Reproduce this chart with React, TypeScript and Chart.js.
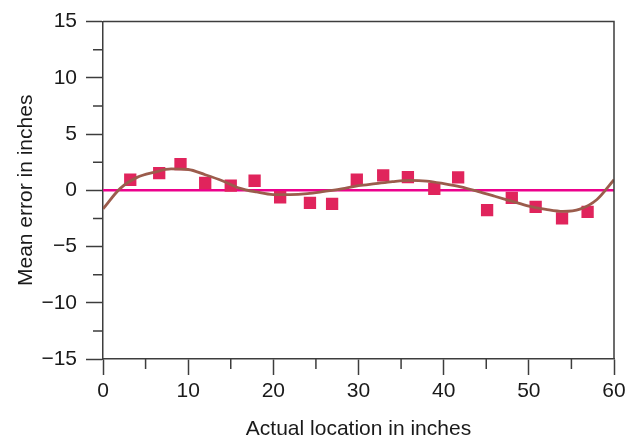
import React, { useEffect, useRef } from "react";
import { Chart, registerables } from "chart.js";

Chart.register(...registerables);

const pointX = [3.2, 6.6, 9.1, 12.0, 15.0, 17.8, 20.8, 24.3, 26.9, 29.8, 32.9, 35.8, 38.9, 41.7, 45.1, 48.0, 50.8, 53.9, 56.9];
const pointY = [0.94, 1.53, 2.32, 0.65, 0.41, 0.85, -0.62, -1.12, -1.2, 0.94, 1.32, 1.17, 0.12, 1.15, -1.77, -0.68, -1.47, -2.5, -1.91];

const curveX = [0, 2, 4, 6, 8, 10, 12, 14, 16, 18, 20, 22, 24, 26, 28, 30, 32, 34, 36, 38, 40, 42, 44, 46, 48, 50, 52, 54, 56, 58, 60];
const curveY = [-1.65, 0.15, 1.15, 1.6, 1.9, 1.85, 1.38, 0.85, 0.2, -0.15, -0.38, -0.38, -0.3, -0.1, 0.12, 0.41, 0.59, 0.77, 0.88, 0.82, 0.59, 0.3, -0.1, -0.53, -0.97, -1.41, -1.7, -1.88, -1.68, -0.82, 0.94];

const zeroLineX = [0, 60];
const zeroLineY = [0, 0];

const xMinorTicks = [5, 15, 25, 35, 45, 55];
const yMinorTicks = [-12.5, -7.5, -2.5, 2.5, 7.5, 12.5];

const AXIS_COLOR = "#3d3d3d";
const FONT = "'Liberation Sans', Arial, Helvetica, sans-serif";

const framePlugin = {
  id: "frame",
  afterDraw(chart: any) {
    const { ctx, chartArea, scales } = chart;
    const xs = scales.x;
    const ys = scales.y;
    ctx.save();
    ctx.strokeStyle = AXIS_COLOR;
    ctx.lineWidth = 1.5;
    ctx.beginPath();
    ctx.moveTo(chartArea.left, chartArea.top);
    ctx.lineTo(chartArea.right, chartArea.top);
    ctx.lineTo(chartArea.right, chartArea.bottom);
    for (const v of yMinorTicks) {
      const p = ys.getPixelForValue(v);
      ctx.moveTo(chartArea.left - 10, p);
      ctx.lineTo(chartArea.left, p);
    }
    for (const v of xMinorTicks) {
      const p = xs.getPixelForValue(v);
      ctx.moveTo(p, chartArea.bottom);
      ctx.lineTo(p, chartArea.bottom + 10);
    }
    ctx.stroke();
    ctx.restore();
  },
};

export default function App() {
  const ref = useRef<HTMLCanvasElement>(null);

  useEffect(() => {
    document.body.style.margin = "0";
    const canvas = ref.current!;
    const chart = new Chart(canvas, {
      type: "scatter",
      data: {
        datasets: [
          {
            type: "line",
            data: curveX.map((x, i) => ({ x, y: curveY[i] })),
            borderColor: "#9b5c4c",
            borderWidth: 2.8,
            pointRadius: 0,
            tension: 0.4,
            cubicInterpolationMode: "monotone",
            fill: false,
          } as any,
          {
            type: "scatter",
            data: pointX.map((x, i) => ({ x, y: pointY[i] })),
            pointStyle: "rect",
            pointRadius: 8.7,
            backgroundColor: "#e0245c",
            borderColor: "#e0245c",
            borderWidth: 0,
          },
          {
            type: "line",
            data: zeroLineX.map((x, i) => ({ x, y: zeroLineY[i] })),
            borderColor: "#ec008c",
            borderWidth: 2.5,
            pointRadius: 0,
            fill: false,
          } as any,
        ],
      },
      options: {
        animation: false,
        responsive: false,
        maintainAspectRatio: false,
        devicePixelRatio: 1,
        layout: { padding: { top: 19, right: 23, left: 0, bottom: 0 } },
        plugins: { legend: { display: false }, tooltip: { enabled: false } },
        scales: {
          x: {
            type: "linear",
            min: 0,
            max: 60,
            afterFit: (s: any) => {
              s.height = 81;
            },
            ticks: {
              stepSize: 10,
              color: "#1a1a1a",
              font: { family: FONT, size: 21, lineHeight: 1.2 },
              padding: 4,
            },
            grid: {
              display: true,
              drawOnChartArea: false,
              tickLength: 16,
              tickColor: AXIS_COLOR,
              tickWidth: 1.5,
            },
            border: { display: true, color: AXIS_COLOR, width: 1.5 },
            title: {
              display: true,
              text: "Actual location in inches",
              color: "#1a1a1a",
              font: { family: FONT, size: 21, lineHeight: 1 },
              padding: { top: 0, bottom: 0 },
            },
          },
          y: {
            type: "linear",
            min: -15,
            max: 15,
            afterFit: (s: any) => {
              s.width = 103;
            },
            ticks: {
              stepSize: 5,
              color: "#1a1a1a",
              font: { family: FONT, size: 21 },
              padding: 9,
              callback: (v: any) => (Number(v) < 0 ? "\u2212" + Math.abs(Number(v)) : String(v)),
            },
            grid: {
              display: true,
              drawOnChartArea: false,
              tickLength: 17,
              tickColor: AXIS_COLOR,
              tickWidth: 1.5,
            },
            border: { display: true, color: AXIS_COLOR, width: 1.5 },
            title: {
              display: true,
              text: "Mean error in inches",
              color: "#1a1a1a",
              font: { family: FONT, size: 21, lineHeight: 1 },
              padding: { top: 16, bottom: 0 },
            },
          },
        },
      },
      plugins: [framePlugin],
    });
    return () => chart.destroy();
  }, []);

  return (
    <div style={{ position: "absolute", left: 0, top: 0, width: 637, height: 440 }}>
      <canvas ref={ref} width={637} height={440} style={{ width: 637, height: 440 }} />
    </div>
  );
}
